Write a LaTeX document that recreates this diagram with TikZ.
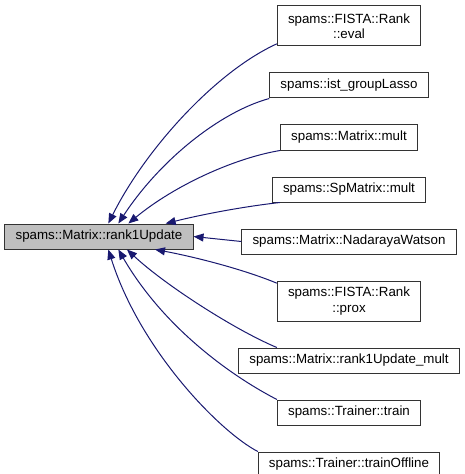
\documentclass[tikz,border=0pt]{standalone}
\usepackage{fontspec}
\setmainfont{Liberation Sans}
\usepackage{xcolor}
\usetikzlibrary{positioning,arrows.meta}
\definecolor{edgeblue}{RGB}{25,25,112}
\definecolor{maingray}{RGB}{191,191,191}

\begin{document}
\begin{tikzpicture}[
  x=0.75pt, y=-0.75pt,
  node distance=19.5pt,
  fn/.style={draw=black!80, line width=0.75pt, fill=white, minimum height=18.75pt, inner xsep=8pt, inner ysep=1pt, align=center, font={\fontsize{10}{11.5}\selectfont}},
  fn2/.style={fn, minimum height=30pt},
  callee/.style={fn, fill=maingray},
  arr/.style={{Triangle[length=7.5pt,width=6pt]}-, draw=edgeblue, line width=0.75pt},
]
\useasboundingbox (0,0) rectangle (464,474);

% the function itself
\node[callee] (main) at (99,236.5) {spams::Matrix::rank1Update};

% callers
\node[fn2] (eval) at (349,26) {spams::FISTA::Rank\\::eval};
\node[fn, below=of eval] (grouplasso) {spams::ist\_groupLasso};
\node[fn, below=of grouplasso] (mult) {spams::Matrix::mult};
\node[fn, below=of mult] (spmult) {spams::SpMatrix::mult};
\node[fn, below=of spmult] (nadaraya) {spams::Matrix::NadarayaWatson};
\node[fn2, below=of nadaraya] (prox) {spams::FISTA::Rank\\::prox};
\node[fn, below=of prox] (r1mult) {spams::Matrix::rank1Update\_mult};
\node[fn, below=of r1mult] (train) {spams::Trainer::train};
\node[fn, below=of train] (offline) {spams::Trainer::trainOffline};

% calls from above
\draw[arr] ([xshift=7pt]main.north) .. controls (145,150) and (215,72) .. ([yshift=2pt]eval.south west);
\draw[arr] ([xshift=14.5pt]main.north) .. controls (160,160) and (220,112) .. (grouplasso.south west);
\draw[arr] ([xshift=22pt]main.north) .. controls (175,185) and (235,158) .. (mult.south west);
\draw[arr] ([xshift=50pt]main.north) .. controls (200,215) and (240,207) .. ([xshift=6pt]spmult.south west);

% straight call
\draw[arr] (main.east) -- (nadaraya.west);

% calls from below
\draw[arr] ([xshift=42pt]main.south) .. controls (190,256) and (240,268) .. ([yshift=-2pt]prox.north west);
\draw[arr] ([xshift=21pt]main.south) .. controls (165,285) and (235,330) .. ([xshift=29pt]r1mult.north west);
\draw[arr] ([xshift=14.5pt]main.south) .. controls (165,330) and (235,378) .. (train.north west);
\draw[arr] ([xshift=7pt]main.south) .. controls (140,350) and (220,432) .. (offline.north west);
\end{tikzpicture}
\end{document}
